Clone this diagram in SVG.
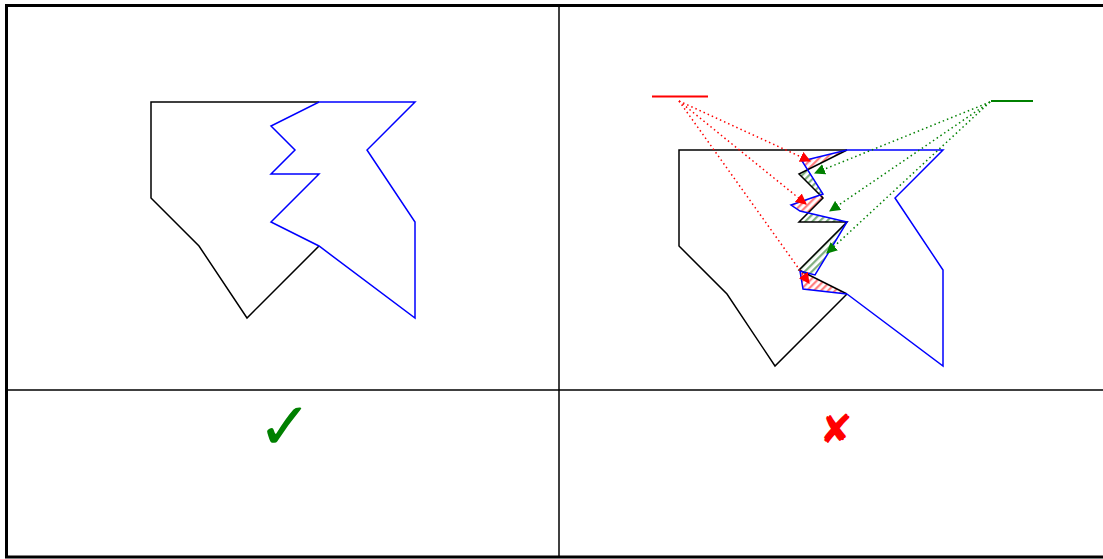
<svg xmlns="http://www.w3.org/2000/svg" width="1103" height="559" viewBox="0 0 1103 559">
<style>
.blk{fill:none;stroke:#000;stroke-width:1.5;stroke-linejoin:miter}
.blu{fill:none;stroke:#0000ff;stroke-width:1.5}
.rd{fill:none;stroke:#ff0000;stroke-width:1.5;stroke-dasharray:1.5 3}
.gd{fill:none;stroke:#008000;stroke-width:1.5;stroke-dasharray:1.5 3}
.hr{fill:url(#hatchR);stroke:none}
.hg{fill:url(#hatchG);stroke:none}
.sym{font-family:"DejaVu Sans",sans-serif}
</style>
<defs>
<pattern id="hatchR" width="5" height="5" patternUnits="userSpaceOnUse" patternTransform="rotate(45)">
<rect width="5" height="5" fill="#fff"/><rect width="2.2" height="5" fill="#ff8080"/>
</pattern>
<pattern id="hatchG" width="5" height="5" patternUnits="userSpaceOnUse" patternTransform="rotate(45)">
<rect width="5" height="5" fill="#fff"/><rect width="2.2" height="5" fill="#80b080"/>
</pattern>
<marker id="arR" viewBox="0 0 10 10" refX="9" refY="5" markerWidth="11" markerHeight="11" markerUnits="userSpaceOnUse" orient="auto">
<path d="M0,0 L10,5 L0,10 z" fill="#ff0000"/>
</marker>
<marker id="arG" viewBox="0 0 10 10" refX="9" refY="5" markerWidth="11" markerHeight="11" markerUnits="userSpaceOnUse" orient="auto">
<path d="M0,0 L10,5 L0,10 z" fill="#008000"/>
</marker>
</defs>
<rect width="1103" height="559" fill="#fff"/>
<g id="table">
<rect x="6.5" y="5.5" width="1100" height="551.5" fill="none" stroke="#000" stroke-width="3"/>
<line x1="559" y1="5.5" x2="559" y2="557" stroke="#000" stroke-width="1.5"/>
<line x1="6.5" y1="390" x2="1106" y2="390" stroke="#000" stroke-width="1.5"/>
</g>
<g id="left-union">
<polyline class="blk" points="319,102 151,102 151,198 199,246 247,318 319,246"/>
<polygon class="blu" points="319,102 415,102 367,150 415,222 415,318 319,246 271,222 319,174 271,174 295,150 271,126"/>
</g>
<g id="right-union">
<polygon class="hr" points="847,150 802,161 807.5,169.7"/>
<polygon class="hg" points="807.5,169.7 799,174 823,198 823,194"/>
<polygon class="hr" points="823,194 791,205 800,211 808.1,212.9 823,198"/>
<polygon class="hg" points="808.1,212.9 847,222 799,222"/>
<polygon class="hg" points="847,222 799,270 801,271 815,275"/>
<polygon class="hr" points="800,270.5 803,289 847,294"/>
<polyline class="blk" points="847,150 679,150 679,246 727,294 775,366 847,294"/>
<polyline class="blk" points="847,150 799,174 823,198 799,222 847,222 799,270 847,294"/>
<polyline class="blu" points="847,150 943,150 895,198 943,270 943,366 847,294"/>
<polyline class="blu" points="847,150 802,161 823,194 791,205 800,211 847,222 815,275 800,271 803,289 847,294"/>
<line x1="652" y1="96.5" x2="708" y2="96.5" stroke="#ff0000" stroke-width="2"/>
<line x1="991" y1="101" x2="1033" y2="101" stroke="#008000" stroke-width="2"/>
</g>
<g id="connectors">
<path class="rd" d="M679,101 L810,161" marker-end="url(#arR)"/>
<path class="rd" d="M679,101 L806,204" marker-end="url(#arR)"/>
<path class="rd" d="M679,101 L809,283" marker-end="url(#arR)"/>
<path class="gd" d="M990,102 L815,173" marker-end="url(#arG)"/>
<path class="gd" d="M990,102 L830,211" marker-end="url(#arG)"/>
<path class="gd" d="M990,102 L827,253" marker-end="url(#arG)"/>
</g>
<g id="marks">
<text class="sym" x="285" y="449" font-size="66" font-weight="bold" fill="#008000" text-anchor="middle">✓</text>
<text class="sym" x="836" y="443" font-size="40" fill="#ff0000" text-anchor="middle">✘</text>
</g>
</svg>
